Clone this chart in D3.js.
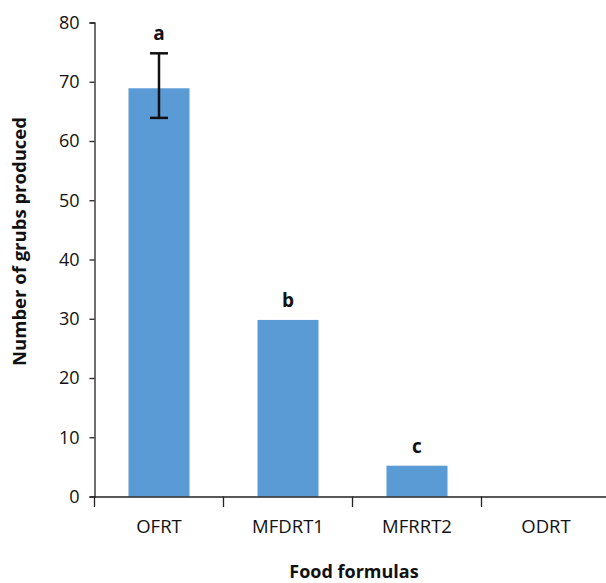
<!DOCTYPE html>
<html><head><meta charset="utf-8">
<script src="https://cdn.jsdelivr.net/npm/d3@7"></script>
<style>body{margin:0;background:#fff}svg{display:block}text{font-family:"Open Sans","Noto Sans",sans-serif}</style>
</head><body>
<svg id="c" width="606" height="583"></svg>
<script>
const categories = ["OFRT","MFDRT1","MFRRT2","ODRT"];
const values = [68.9, 29.8, 5.2, 0];
const errLow = [63.9, null, null, null];
const errHigh = [74.8, null, null, null];
const letters = ["a","b","c",""];
const yTicks = [0,10,20,30,40,50,60,70,80];

const svg = d3.select("#c");
const x = d3.scaleBand().domain(categories).range([94.5, 610.5]).paddingInner(0).paddingOuter(0);
const y = d3.scaleLinear().domain([0,80]).range([496.5, 22.5]);
const barW = 61;

// y axis
const ya = svg.append("g").attr("transform","translate(94.5,0)")
  .call(d3.axisLeft(y).tickValues(yTicks).tickSize(5).tickPadding(10));
ya.select(".domain").attr("stroke","#222").attr("stroke-width",1.3);
ya.selectAll(".tick line").attr("stroke","#222").attr("stroke-width",1.3);
ya.selectAll(".tick text").attr("font-size",18).attr("fill","#111");

// bars
svg.selectAll("rect.bar").data(values).join("rect")
  .attr("class","bar")
  .attr("x",(d,i)=>x(categories[i]) + x.bandwidth()/2 - barW/2)
  .attr("y",d=>y(d))
  .attr("width",barW)
  .attr("height",d=>y(0)-y(d))
  .attr("fill","#5b9bd5");

// x axis
const xa = svg.append("g").attr("transform","translate(0,496.5)")
  .call(d3.axisBottom(x).tickSize(0).tickPadding(23));
xa.select(".domain").attr("stroke","#222").attr("stroke-width",1.3);
xa.selectAll(".tick text").attr("font-size",18.5).attr("fill","#111");
const bounds = categories.map(c=>x(c));
svg.append("g").selectAll("line").data(bounds).join("line")
  .attr("x1",d=>d).attr("x2",d=>d).attr("y1",496.5).attr("y2",507)
  .attr("stroke","#222").attr("stroke-width",1.3);

// error bars
const eg = svg.append("g");
values.forEach((v,i)=>{
  if(errLow[i]==null) return;
  const cx = x(categories[i]) + x.bandwidth()/2;
  eg.append("line").attr("x1",cx).attr("x2",cx).attr("y1",y(errHigh[i])).attr("y2",y(errLow[i])).attr("stroke","#111").attr("stroke-width",2.5);
  [errHigh[i],errLow[i]].forEach(e=>{
    eg.append("line").attr("x1",cx-9).attr("x2",cx+9).attr("y1",y(e)).attr("y2",y(e)).attr("stroke","#111").attr("stroke-width",2.5);
  });
});

// letters
svg.append("g").selectAll("text").data(letters).join("text")
  .attr("x",(d,i)=>x(categories[i]) + x.bandwidth()/2)
  .attr("y",(d,i)=>y(errHigh[i]!=null?errHigh[i]:values[i]) - 13)
  .attr("text-anchor","middle").attr("font-size",19).attr("font-weight","bold").attr("fill","#111")
  .text(d=>d);

// axis titles
svg.append("text").attr("x",354).attr("y",578).attr("text-anchor","middle")
  .attr("font-size",18).attr("font-weight","bold").attr("fill","#111").text("Food formulas");
svg.append("text").attr("transform","translate(26,241.5) rotate(-90)").attr("text-anchor","middle")
  .attr("font-size",18.5).attr("font-weight","bold").attr("fill","#111").text("Number of grubs produced");
</script>
</body></html>
